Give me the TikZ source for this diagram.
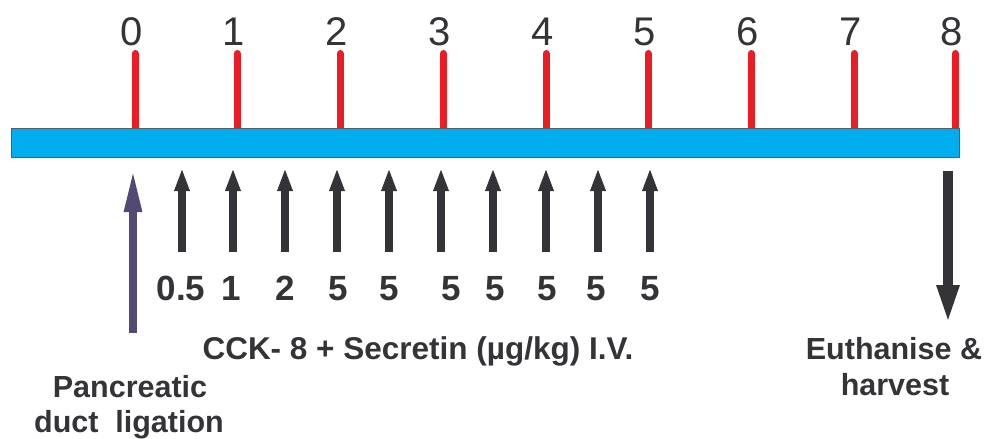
\documentclass[tikz,border=0pt]{standalone}
\usepackage{fontspec}
\setmainfont{Liberation Sans}
\usetikzlibrary{arrows.meta}
\definecolor{barblue}{HTML}{00AEEF}
\definecolor{tickred}{HTML}{ED1C24}
\definecolor{inkgray}{HTML}{333338}
\definecolor{ligpurple}{HTML}{524A72}
\tikzset{
  tick/.style={tickred, line width=7pt, line cap=round},
  daynum/.style={anchor=base, inkgray, font=\fontsize{40}{44}\selectfont, inner sep=0pt},
  dose/.style={anchor=base, inkgray, font=\bfseries\fontsize{35}{38}\selectfont, inner sep=0pt},
  lbl/.style={anchor=base, inkgray, font=\bfseries\fontsize{30.5}{35}\selectfont, inner sep=0pt, align=center},
  injarrow/.style={inkgray, line width=7.5pt, -{Triangle[length=23pt, width=14pt]}},
  ligarrow/.style={ligpurple, line width=8pt, -{Triangle[length=44pt, width=16pt]}},
  killarrow/.style={inkgray, line width=10pt, -{Triangle[length=40pt, width=20pt]}},
  timebar/.style={fill=barblue, draw=inkgray!80, line width=1pt}
}
\begin{document}
\begin{tikzpicture}[x=1pt,y=-1pt]
\useasboundingbox (0,0) rectangle (988,439);
% red ticks and day numbers
\foreach \d/\x in {0/135,1/237,2/340,3/443,4/546,5/648,6/751,7/854,8/955}{
  \coordinate (t\d) at (\x,53.5);
  \coordinate (b\d) at (\x,132);
  \draw[tick] (t\d) -- (b\d);
  \node[daynum] (n\d) at (\x-3,45) {\d};
}
% time bar
\node[timebar, minimum width=948pt, minimum height=29pt, inner sep=0pt, anchor=north west] (bar) at (11,128) {};
% injection arrows
\foreach \i/\x in {1/182,2/233,3/285,4/337,5/389,6/441,7/493,8/546,9/598,10/650}{
  \coordinate (s\i) at (\x,252);
  \coordinate (e\i) at (\x,168);
  \draw[injarrow] (s\i) -- (e\i);
}
% doses
\foreach \i/\x/\v in {1/181/0.5,2/231/1,3/285/2,4/338/5,5/389/5,6/451/5,7/495/5,8/547/5,9/596/5,10/650/5}{
  \node[dose] (d\i) at (\x,300) {\v};
}
% ligation arrow
\coordinate (ls) at (133,333);
\coordinate (le) at (133,168);
\draw[ligarrow] (ls) -- (le);
% euthanise arrow
\coordinate (ks) at (948,171);
\coordinate (ke) at (948,325);
\draw[killarrow] (ks) -- (ke);
% labels
\node[lbl, font=\bfseries\fontsize{31.5}{35}\selectfont] (cck) at (418,359) {CCK- 8 + Secretin (µg/kg) I.V.};
\node[lbl] (panc) at (130,397) {Pancreatic};
\node[lbl] (duct) at (129,432) {duct\hspace{0.55em}ligation};
\node[lbl] (euth) at (894,359) {Euthanise \&};
\node[lbl] (harv) at (895,395) {harvest};
\end{tikzpicture}
\end{document}
